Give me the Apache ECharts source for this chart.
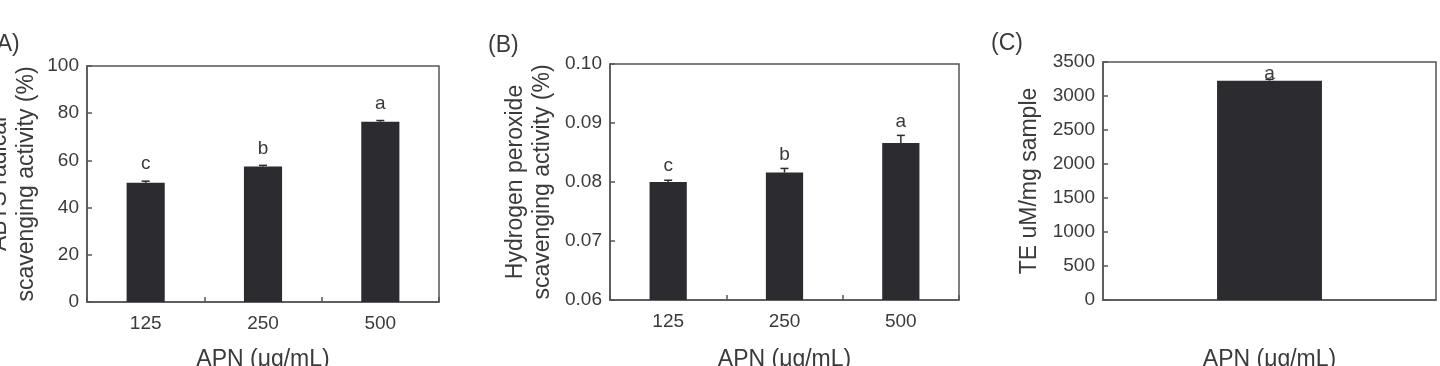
<!DOCTYPE html>
<html>
<head>
<meta charset="utf-8">
<script src="https://cdn.jsdelivr.net/npm/echarts@6/dist/echarts.min.js"></script>
<style>
  html, body { margin: 0; padding: 0; background: #fff; }
  #main { width: 1440px; height: 366px; }
</style>
</head>
<body>
<div id="main"></div>
<script>
// 数据
var doseCats = ['125', '250', '500'];
var abtsVal = [50.5, 57.4, 76.4];
var abtsErr = [0.7, 0.5, 0.5];
var abtsLetters = ['c', 'b', 'a'];

var h2o2Val = [0.0800, 0.0816, 0.0866];
var h2o2Err = [0.0003, 0.0007, 0.0013];
var h2o2Letters = ['c', 'b', 'a'];

var teCats = [''];
var teVal = [3225];
var teErr = [20];
var teLetters = ['a'];

var FONT = 'Liberation Sans, Arial, sans-serif';
var TXT = '#3a3a3a';
var LINE = '#555';
var BAR = '#2b2b30';

function errItem(letters, gap) {
  return function (params, api) {
    var x = api.value(0);
    var v = api.value(1);
    var e = api.value(2);
    var top = api.coord([x, v + e]);
    var bot = api.coord([x, v]);
    var hw = 4;
    return {
      type: 'group',
      children: [
        { type: 'line', shape: { x1: top[0], y1: top[1], x2: top[0], y2: bot[1] }, style: { stroke: BAR, lineWidth: 1.5 } },
        { type: 'line', shape: { x1: top[0] - hw, y1: top[1], x2: top[0] + hw, y2: top[1] }, style: { stroke: BAR, lineWidth: 1.5 } },
        {
          type: 'text', x: top[0], y: top[1] - gap,
          style: { text: letters[params.dataIndex], textAlign: 'center', textVerticalAlign: 'middle', fontSize: 19, fontFamily: FONT, fill: TXT }
        }
      ]
    };
  };
}

function xAxis(idx, cats, showTicks, gap) {
  return {
    type: 'category', gridIndex: idx, data: cats,
    name: 'APN (μg/mL)', nameLocation: 'middle', nameGap: gap, nameMoveOverlap: false,
    nameTextStyle: { fontSize: 23, fontFamily: FONT, color: TXT },
    axisLine: { show: true, lineStyle: { color: LINE, width: 1.5 } },
    axisTick: { show: showTicks, inside: true, length: 5, lineStyle: { color: LINE, width: 1.5 } },
    axisLabel: { show: showTicks, fontSize: 19, fontFamily: FONT, color: TXT, margin: 12 }
  };
}

function yAxis(idx, name, min, max, interval, gap, fmt) {
  return {
    type: 'value', gridIndex: idx, min: min, max: max, interval: interval,
    name: name, nameLocation: 'middle', nameRotate: 90, nameGap: gap, nameMoveOverlap: false,
    nameTextStyle: { fontSize: 23, fontFamily: FONT, color: TXT, lineHeight: 27 },
    splitLine: { show: false },
    axisLine: { show: true, lineStyle: { color: LINE, width: 1.5 } },
    axisTick: { show: true, inside: true, length: 5, lineStyle: { color: LINE, width: 1.5 } },
    axisLabel: { fontSize: 19, fontFamily: FONT, color: TXT, margin: 8, formatter: fmt || function (v) { return String(v); } }
  };
}

function toPts(vals, errs) {
  return vals.map(function (v, i) { return [i, v, errs[i]]; });
}

var gridStyle = { show: true, borderColor: LINE, borderWidth: 1.5, backgroundColor: 'transparent', outerBoundsMode: 'none', containLabel: false };

var option = {
  animation: false,
  title: [
    { text: '(A)', left: -16, top: 28, textStyle: { fontSize: 23, fontWeight: 'normal', fontFamily: FONT, color: TXT } },
    { text: '(B)', left: 483, top: 29, textStyle: { fontSize: 23, fontWeight: 'normal', fontFamily: FONT, color: TXT } },
    { text: '(C)', left: 986, top: 27, textStyle: { fontSize: 23, fontWeight: 'normal', fontFamily: FONT, color: TXT } }
  ],
  grid: [
    Object.assign({ left: 87, top: 66, width: 352, height: 236 }, gridStyle),
    Object.assign({ left: 610, top: 64, width: 349, height: 236 }, gridStyle),
    Object.assign({ left: 1103, top: 62, width: 333, height: 238 }, gridStyle)
  ],
  xAxis: [
    xAxis(0, doseCats, true, 46),
    xAxis(1, doseCats, true, 48),
    xAxis(2, teCats, false, 48)
  ],
  yAxis: [
    yAxis(0, 'ABTS radical\nscavenging activity (%)', 0, 100, 20, 47),
    yAxis(1, 'Hydrogen peroxide\nscavenging activity (%)', 0.06, 0.10, 0.01, 54, function (v) { return v.toFixed(2); }),
    yAxis(2, 'TE uM/mg sample', 0, 3500, 500, 60)
  ],
  series: [
    { type: 'bar', xAxisIndex: 0, yAxisIndex: 0, data: abtsVal, barWidth: '32.5%', itemStyle: { color: BAR } },
    { type: 'custom', xAxisIndex: 0, yAxisIndex: 0, data: toPts(abtsVal, abtsErr), renderItem: errItem(abtsLetters, 17), z: 3 },
    { type: 'bar', xAxisIndex: 1, yAxisIndex: 1, data: h2o2Val, barWidth: '32%', itemStyle: { color: BAR } },
    { type: 'custom', xAxisIndex: 1, yAxisIndex: 1, data: toPts(h2o2Val, h2o2Err), renderItem: errItem(h2o2Letters, 14), z: 3 },
    { type: 'bar', xAxisIndex: 2, yAxisIndex: 2, data: teVal, barWidth: '31.5%', itemStyle: { color: BAR } },
    { type: 'custom', xAxisIndex: 2, yAxisIndex: 2, data: toPts(teVal, teErr), renderItem: errItem(teLetters, 6), z: 3 }
  ]
};

var chart = echarts.init(document.getElementById('main'), null, { renderer: 'canvas' });
chart.setOption(option);
</script>
</body>
</html>
